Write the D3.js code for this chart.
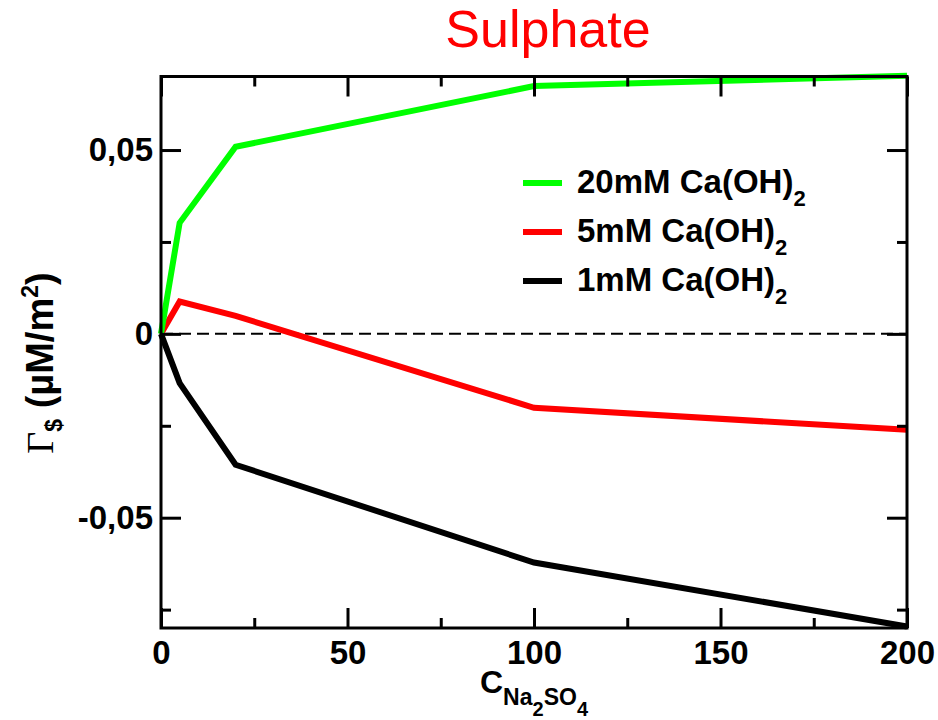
<!DOCTYPE html>
<head>
    <meta charset="utf-8">
    <script src="https://cdn.jsdelivr.net/npm/d3@7"></script>
    <style type="text/css">
        body {
            margin: 0;
            background: #fff;
        }
        #svg {
            display: block;
        }
        text {
            font-family: "Liberation Sans", Arial, sans-serif;
        }
        .tick-label {
            font-size: 33px;
            font-weight: bold;
        }
    </style>
</head>
<body>
    <div id="chart"></div>
</body>
</html>

<script type="text/javascript">
	// Data
	var xValues = [0, 5, 20, 100, 200];
	var ca20 = [0, 0.0302, 0.0509, 0.0674, 0.0702];
	var ca5 = [0, 0.0088, 0.0049, -0.0201, -0.0261];
	var ca1 = [0, -0.0134, -0.0356, -0.0622, -0.0796];

	var seriesNames = ["20mM Ca(OH)", "5mM Ca(OH)", "1mM Ca(OH)"];
	var seriesColors = ["#00ff00", "#ff0000", "#000000"];

	var xMajor = [0, 50, 100, 150, 200];
	var xMinor = [25, 75, 125, 175];
	var yMajor = [-0.05, 0, 0.05];
	var yMinor = [-0.075, -0.025, 0.025];
	var yTickLabels = ["-0,05", "0", "0,05"];

	var width = 938, height = 720;
	var margin = {top: 76.5, right: 31, bottom: 92, left: 161};

	var x = d3.scaleLinear()
		.domain([0, 200])
		.range([margin.left, width - margin.right]);

	var y = d3.scaleLinear()
		.domain([-0.08, 0.07])
		.range([height - margin.bottom, margin.top]);

	var svg = d3.select("#chart").append("svg")
		.attr("id", "svg")
		.attr("width", width)
		.attr("height", height);

	// zero line
	svg.append("line")
		.attr("x1", x(0)).attr("x2", x(200))
		.attr("y1", y(0)).attr("y2", y(0))
		.attr("stroke", "#000")
		.attr("stroke-width", 2)
		.attr("stroke-dasharray", "12,6");

	// series
	var line = d3.line()
		.x(function(d) { return x(d[0]); })
		.y(function(d) { return y(d[1]); });

	[ca1, ca5, ca20].forEach(function(s, i) {
		svg.append("path")
			.datum(xValues.map(function(v, j) { return [v, s[j]]; }))
			.attr("fill", "none")
			.attr("stroke", seriesColors[2 - i])
			.attr("stroke-width", 6)
			.attr("stroke-linejoin", "miter")
			.attr("d", line);
	});

	// axes with inward ticks on all sides
	function styleAxis(g) {
		g.select(".domain").remove();
		g.selectAll(".tick line").attr("stroke", "#000").attr("stroke-width", 3);
	}

	var plotBottom = height - margin.bottom, plotTop = margin.top;
	var plotLeft = margin.left, plotRight = width - margin.right;

	svg.append("g").attr("transform", "translate(0," + plotBottom + ")")
		.call(d3.axisBottom(x).tickValues(xMajor).tickSize(-20).tickPadding(18)
			.tickFormat(d3.format("d")))
		.call(styleAxis)
		.call(function(g) { g.selectAll("text").attr("class", "tick-label").attr("fill", "#000").attr("dy", "0.55em"); });
	svg.append("g").attr("transform", "translate(0," + plotBottom + ")")
		.call(d3.axisBottom(x).tickValues(xMinor).tickSize(-10).tickFormat(""))
		.call(styleAxis);
	svg.append("g").attr("transform", "translate(0," + plotTop + ")")
		.call(d3.axisTop(x).tickValues(xMajor).tickSize(-20).tickFormat(""))
		.call(styleAxis);
	svg.append("g").attr("transform", "translate(0," + plotTop + ")")
		.call(d3.axisTop(x).tickValues(xMinor).tickSize(-10).tickFormat(""))
		.call(styleAxis);

	svg.append("g").attr("transform", "translate(" + plotLeft + ",0)")
		.call(d3.axisLeft(y).tickValues(yMajor).tickSize(-20).tickPadding(8)
			.tickFormat(function(d, i) { return yTickLabels[i]; }))
		.call(styleAxis)
		.call(function(g) { g.selectAll("text").attr("class", "tick-label").attr("fill", "#000"); });
	svg.append("g").attr("transform", "translate(" + plotLeft + ",0)")
		.call(d3.axisLeft(y).tickValues(yMinor).tickSize(-10).tickFormat(""))
		.call(styleAxis);
	svg.append("g").attr("transform", "translate(" + plotRight + ",0)")
		.call(d3.axisRight(y).tickValues(yMajor).tickSize(-20).tickFormat(""))
		.call(styleAxis);
	svg.append("g").attr("transform", "translate(" + plotRight + ",0)")
		.call(d3.axisRight(y).tickValues(yMinor).tickSize(-10).tickFormat(""))
		.call(styleAxis);

	// frame
	svg.append("rect")
		.attr("x", plotLeft).attr("y", plotTop)
		.attr("width", plotRight - plotLeft).attr("height", plotBottom - plotTop)
		.attr("fill", "none")
		.attr("stroke", "#000")
		.attr("stroke-width", 3);

	// title
	svg.append("text")
		.attr("x", 548).attr("y", 47)
		.attr("text-anchor", "middle")
		.attr("fill", "#ff0000")
		.style("font-size", "52px")
		.text("Sulphate");

	// legend
	var legend = svg.append("g").attr("transform", "translate(523,183)");
	seriesNames.forEach(function(name, i) {
		var row = legend.append("g").attr("transform", "translate(0," + (i * 49) + ")");
		row.append("line")
			.attr("x1", 0).attr("x2", 39)
			.attr("stroke", seriesColors[i])
			.attr("stroke-width", 6);
		var t = row.append("text")
			.attr("x", 54).attr("y", 10)
			.style("font-size", "33px")
			.style("font-weight", "bold");
		t.append("tspan").text(name);
		t.append("tspan").attr("dy", 13).style("font-size", "22px").text("2");
	});

	// x label
	var xl = svg.append("text")
		.attr("x", 480).attr("y", 693)
		.style("font-weight", "bold")
		.style("font-size", "32px");
	xl.append("tspan").text("C");
	xl.append("tspan").attr("dy", 12).style("font-size", "23px").text("Na");
	xl.append("tspan").attr("dy", 11).style("font-size", "20px").text("2");
	xl.append("tspan").attr("dy", -11).style("font-size", "23px").text("SO");
	xl.append("tspan").attr("dy", 11).style("font-size", "20px").text("4");

	// y label
	var yl = svg.append("text")
		.attr("transform", "translate(53,363) rotate(-90)")
		.attr("text-anchor", "middle")
		.style("font-size", "38px")
		.style("font-weight", "bold");
	yl.append("tspan").style("font-family", "'Liberation Serif', 'Times New Roman', serif")
		.style("font-weight", "normal").text("Γ");
	yl.append("tspan").attr("dy", 9).style("font-size", "23px").text("$");
	yl.append("tspan").attr("dy", -9).text(" (µM/m");
	yl.append("tspan").attr("dy", -15).style("font-size", "23px").text("2");
	yl.append("tspan").attr("dy", 15).text(")");
</script>
